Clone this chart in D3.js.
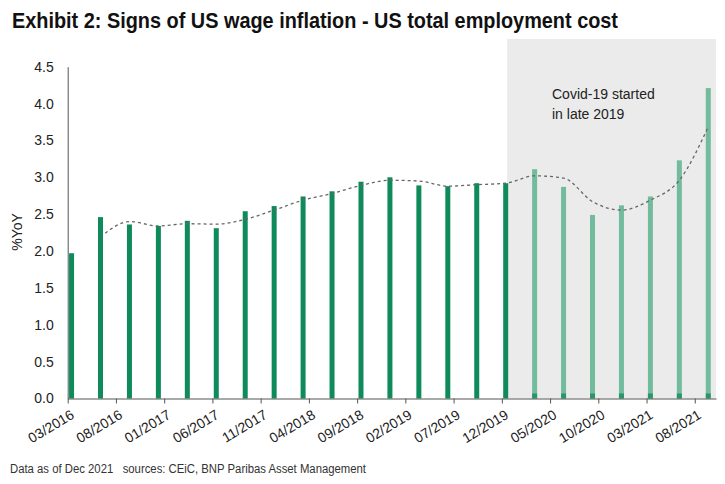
<!DOCTYPE html>
<html><head><meta charset="utf-8">
<script src="https://cdn.jsdelivr.net/npm/d3@7"></script>
<style>
body{margin:0;background:#fff;}
svg{display:block;}
</style></head>
<body>
<svg id="c" width="725" height="484"></svg>
<script>
const quarters = ["03/2016","06/2016","09/2016","12/2016","03/2017","06/2017","09/2017","12/2017",
  "03/2018","06/2018","09/2018","12/2018","03/2019","06/2019","09/2019","12/2019",
  "03/2020","06/2020","09/2020","12/2020","03/2021","06/2021","09/2021"];
const values = [1.97,2.46,2.36,2.34,2.41,2.31,2.54,2.61,2.74,2.81,2.94,3.00,2.89,2.88,2.92,2.92,
  3.11,2.87,2.49,2.62,2.74,3.23,4.21];
const trend = [null,2.19,2.40,2.34,2.37,2.365,2.43,2.555,2.69,2.78,2.89,2.96,2.95,2.88,2.90,2.92,
  3.02,2.99,2.67,2.555,2.69,2.96,3.685];
const tickLabels = ["03/2016","08/2016","01/2017","06/2017","11/2017","04/2018","09/2018",
  "02/2019","07/2019","12/2019","05/2020","10/2020","03/2021","08/2021"];
const yTicks = [0,0.5,1,1.5,2,2.5,3,3.5,4,4.5];
const covidStart = "12/2019";

const mIdx = s => { const [m,y] = s.split("/").map(Number); return (y-2016)*12 + m - 3; };

const svg = d3.select("#c");
const x = d3.scaleLinear().domain([0, 67.2]).range([67.7, 716]);
const y = d3.scaleLinear().domain([0, 4.5]).range([398.5, 66.7]);
const dark = "#0f8a5b", light = "#72bb9c";
const barW = 5, off = 0.4;

// shaded covid region
svg.append("rect")
  .attr("x", x(mIdx(covidStart) + off + 0.15)).attr("y", 39)
  .attr("width", x.range()[1] - x(mIdx(covidStart) + off + 0.15))
  .attr("height", y(0) - 39)
  .attr("fill", "#ebebeb");

// bars
const data = quarters.map((q,i) => ({q, m: mIdx(q), v: values[i], t: trend[i]}));
const cs = mIdx(covidStart);
svg.append("g").selectAll("rect").data(data).join("rect")
  .attr("x", d => x(d.m + off) - barW/2)
  .attr("y", d => y(d.v))
  .attr("width", barW)
  .attr("height", d => y(0) - y(d.v))
  .attr("fill", d => d.m > cs ? light : dark);
svg.append("g").selectAll("rect").data(data.filter(d => d.m > cs)).join("rect")
  .attr("x", d => x(d.m + off) - barW/2)
  .attr("y", y(0) - 5)
  .attr("width", barW).attr("height", 5)
  .attr("fill", dark).attr("opacity", 0.75);

// trend line
const line = d3.line().defined(d => d.t != null)
  .x(d => x(d.m + off)).y(d => y(d.t)).curve(d3.curveMonotoneX);
svg.append("path").datum(data).attr("d", line)
  .attr("fill", "none").attr("stroke", "#666").attr("stroke-width", 1.3)
  .attr("stroke-dasharray", "3,3");

// y axis
const yAxis = svg.append("g").attr("transform", `translate(${x(0)},0)`)
  .call(d3.axisLeft(y).tickValues(yTicks).tickFormat(d3.format(".1f")).tickSize(0).tickPadding(14));
yAxis.select(".domain").attr("stroke", "#555").attr("stroke-width", 1);
yAxis.selectAll("text").attr("font-family", "Liberation Sans, Arial, sans-serif")
  .attr("font-size", 14).attr("fill", "#222");

// x axis
const xAxis = svg.append("g").attr("transform", `translate(0,${y(0)})`)
  .call(d3.axisBottom(x).tickValues(tickLabels.map(mIdx)).tickFormat((d,i) => tickLabels[i]).tickSize(5).tickSizeOuter(0));
xAxis.select(".domain").attr("stroke", "#555").attr("stroke-width", 1);
xAxis.selectAll(".tick line").attr("stroke", "#555");
xAxis.selectAll("text")
  .attr("font-family", "Liberation Sans, Arial, sans-serif").attr("font-size", 14).attr("fill", "#222")
  .attr("text-anchor", "end").attr("dy", null).attr("y", 0)
  .attr("transform", "translate(7,19) rotate(-31)");

// y title
svg.append("text").attr("transform", "translate(22,232) rotate(-90)")
  .attr("text-anchor", "middle").attr("font-family", "Liberation Sans, Arial, sans-serif")
  .attr("font-size", 14).attr("fill", "#222").text("%YoY");

// annotation
const ann = svg.append("text").attr("font-family", "Liberation Sans, Arial, sans-serif")
  .attr("font-size", 14).attr("fill", "#222");
ann.append("tspan").attr("x", 552).attr("y", 99).text("Covid-19 started");
ann.append("tspan").attr("x", 552).attr("y", 119).text("in late 2019");

// title
svg.append("text").attr("x", 12).attr("y", 28)
  .attr("font-family", "Liberation Sans, Arial, sans-serif")
  .attr("font-weight", "bold").attr("font-size", 22).attr("fill", "#111")
  .attr("textLength", 606).attr("lengthAdjust", "spacingAndGlyphs")
  .text("Exhibit 2: Signs of US wage inflation - US total employment cost");

// footer
svg.append("text").attr("x", 10).attr("y", 473)
  .attr("font-family", "Liberation Sans, Arial, sans-serif")
  .attr("font-size", 12).attr("fill", "#333").attr("xml:space", "preserve")
  .attr("textLength", 356).attr("lengthAdjust", "spacingAndGlyphs")
  .text("Data as of Dec 2021   sources: CEiC, BNP Paribas Asset Management");
</script>
</body></html>
